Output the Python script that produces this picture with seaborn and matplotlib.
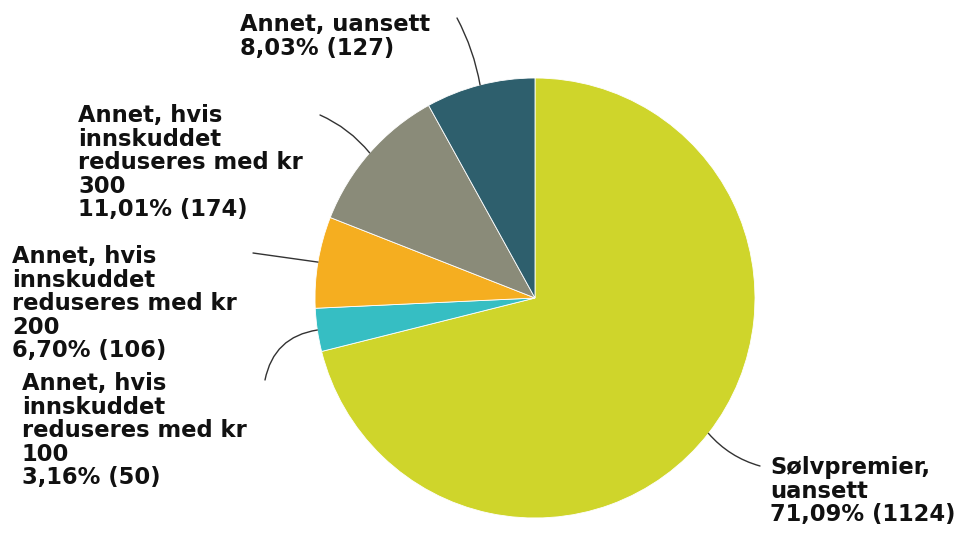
import numpy as np
import matplotlib
matplotlib.use('Agg')
import matplotlib.pyplot as plt
import seaborn as sns

# data
labels = ['Sølvpremier,\nuansett',
          'Annet, hvis\ninnskuddet\nreduseres med kr\n100',
          'Annet, hvis\ninnskuddet\nreduseres med kr\n200',
          'Annet, hvis\ninnskuddet\nreduseres med kr\n300',
          'Annet, uansett']
counts = [1124, 50, 106, 174, 127]
colors = ['#cfd52b', '#36bec3', '#f5ae20', '#8a8b79', '#2e5f6d']

sns.set_theme(style='white')
plt.rcParams['font.family'] = ['DejaVu Sans']

W, H = 956, 533
fig = plt.figure(figsize=(W / 100, H / 100), dpi=100)
ax = fig.add_axes([0, 0, 1, 1])

cx, cy, r = 535, H - 298, 220
wedges, _ = ax.pie(counts, colors=colors, startangle=90, counterclock=False,
                   center=(cx, cy), radius=r, frame=True,
                   wedgeprops=dict(edgecolor='white', linewidth=0.6))
ax.set_xlim(0, W)
ax.set_ylim(0, H)
ax.axis('off')

total = sum(counts)
# label placement (pixel coords, y from top): line end, text anchor, curvature
place = [
    ((760, 466), (770, 456), 'left', -0.15),
    ((265, 380), (22, 372), 'left', -0.35),
    ((253, 253), (12, 245), 'left', 0.0),
    ((320, 115), (78, 104), 'left', -0.12),
    ((457, 18), (240, 13), 'left', -0.08),
]
for w, lab, n, (end, tpos, ha, rad) in zip(wedges, labels, counts, place):
    mid = np.deg2rad((w.theta1 + w.theta2) / 2)
    ex, ey = cx + r * np.cos(mid), cy + r * np.sin(mid)
    pct = f'{n / total * 100:.2f}'.replace('.', ',')
    ax.text(tpos[0], H - tpos[1], f'{lab}\n{pct}% ({n})', ha=ha, va='top',
            fontsize=16.3, fontweight='bold', color='#111111', linespacing=1.03)
    ax.annotate('', xy=(ex, ey), xytext=(end[0], H - end[1]),
                arrowprops=dict(arrowstyle='-', color='#333333', lw=1,
                                connectionstyle=f'arc3,rad={rad}',
                                shrinkA=0, shrinkB=0))

fig.savefig('out.png', dpi=100)
